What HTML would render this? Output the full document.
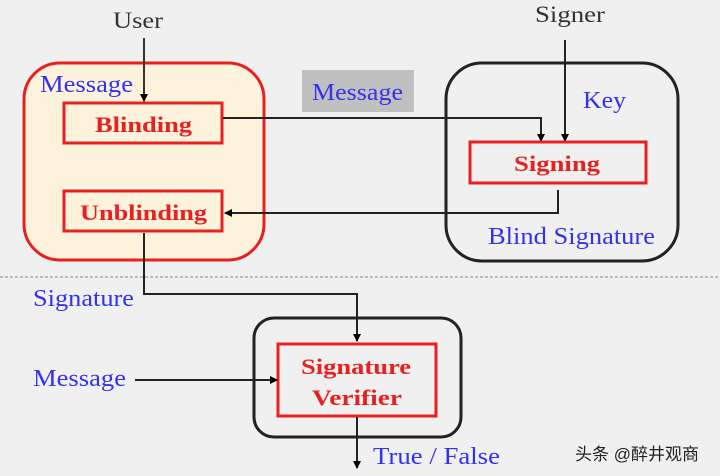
<!DOCTYPE html>
<html><head><meta charset="utf-8"><style>
html,body{margin:0;padding:0;background:#f0f0f0;}
svg{display:block;}
</style></head><body>
<svg width="720" height="476" viewBox="0 0 720 476" xmlns="http://www.w3.org/2000/svg">
<defs>
<marker id="a" markerWidth="8" markerHeight="8" refX="7" refY="4" orient="auto" markerUnits="userSpaceOnUse">
<path d="M0,0 L8,4 L0,8 z" fill="#000"/></marker>
</defs>
<rect width="720" height="476" fill="#f0f0f0"/>
<g style='font-family:"Liberation Serif",serif' lengthAdjust="spacingAndGlyphs">
<text x="113" y="28" font-size="23" textLength="50" lengthAdjust="spacingAndGlyphs" fill="#333">User</text>
<rect x="24" y="63" width="240" height="197" rx="36" fill="#fdf3dc" stroke="#e82020" stroke-width="3"/>
<line x1="144" y1="38" x2="144" y2="101" stroke="#333" stroke-width="2" marker-end="url(#a)"/>
<text x="40" y="92" font-size="24" textLength="93" lengthAdjust="spacingAndGlyphs" fill="#3333ee">Message</text>
<rect x="64" y="103" width="158" height="40" fill="none" stroke="#e82020" stroke-width="3"/>
<text x="95" y="132" font-size="22" font-weight="bold" textLength="97" lengthAdjust="spacingAndGlyphs" fill="#e82020">Blinding</text>
<rect x="64" y="191" width="158" height="40" fill="none" stroke="#e82020" stroke-width="3"/>
<text x="80" y="220" font-size="22" font-weight="bold" textLength="127" lengthAdjust="spacingAndGlyphs" fill="#e82020">Unblinding</text>
<rect x="302" y="70" width="112" height="42" fill="#c0c0c0"/>
<text x="312" y="100" font-size="24" textLength="91" lengthAdjust="spacingAndGlyphs" fill="#3333ee">Message</text>
<rect x="446" y="63" width="232" height="198" rx="36" fill="none" stroke="#222" stroke-width="3"/>
<text x="535" y="22" font-size="23" textLength="70" lengthAdjust="spacingAndGlyphs" fill="#333">Signer</text>
<text x="583" y="108" font-size="24" textLength="43" lengthAdjust="spacingAndGlyphs" fill="#3333ee">Key</text>
<polyline points="223,118 541,118 541,141" fill="none" stroke="#222" stroke-width="2" marker-end="url(#a)"/>
<line x1="565" y1="40" x2="565" y2="141" stroke="#222" stroke-width="2" marker-end="url(#a)"/>
<rect x="470" y="142" width="176" height="41" fill="none" stroke="#e82020" stroke-width="3"/>
<text x="514" y="171" font-size="22" font-weight="bold" textLength="86" lengthAdjust="spacingAndGlyphs" fill="#e82020">Signing</text>
<polyline points="558,190 558,213 225,213" fill="none" stroke="#222" stroke-width="2" marker-end="url(#a)"/>
<text x="488" y="244" font-size="24" textLength="167" lengthAdjust="spacingAndGlyphs" fill="#3333ee">Blind Signature</text>
<line x1="0" y1="277" x2="720" y2="277" stroke="#aaa" stroke-width="1.5" stroke-dasharray="3,2"/>
<text x="33" y="306" font-size="24" textLength="101" lengthAdjust="spacingAndGlyphs" fill="#3333ee">Signature</text>
<polyline points="144,233 144,294 357,294 357,341" fill="none" stroke="#222" stroke-width="2" marker-end="url(#a)"/>
<rect x="254" y="318" width="207" height="119" rx="20" fill="none" stroke="#222" stroke-width="3"/>
<rect x="278" y="344" width="158" height="72" fill="none" stroke="#e82020" stroke-width="3"/>
<text x="301" y="374" font-size="22" font-weight="bold" textLength="110" lengthAdjust="spacingAndGlyphs" fill="#e82020">Signature</text>
<text x="312" y="405" font-size="22" font-weight="bold" textLength="90" lengthAdjust="spacingAndGlyphs" fill="#e82020">Verifier</text>
<text x="33" y="386" font-size="24" textLength="93" lengthAdjust="spacingAndGlyphs" fill="#3333ee">Message</text>
<line x1="135" y1="380" x2="277" y2="380" stroke="#222" stroke-width="2" marker-end="url(#a)"/>
<line x1="357" y1="417" x2="357" y2="468" stroke="#222" stroke-width="2" marker-end="url(#a)"/>
<text x="373" y="464" font-size="24" textLength="127" lengthAdjust="spacingAndGlyphs" fill="#3333ee">True / False</text>
</g>
<text x="575" y="460" style='font-family:"Liberation Sans","Noto Sans CJK SC",sans-serif' font-size="17" fill="#222">头条 @醉井观商</text>
</svg>
</body></html>
